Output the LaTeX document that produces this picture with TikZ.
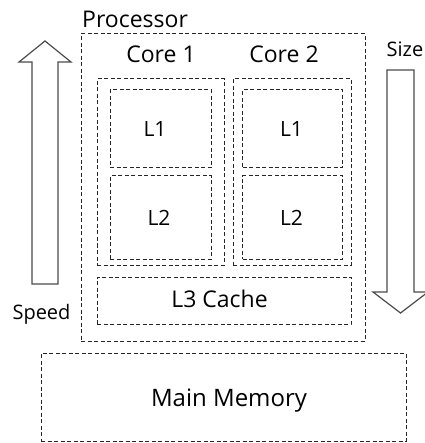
\documentclass[tikz,border=0pt]{standalone}
\usepackage{fontspec}
\setmainfont{Open Sans}
\begin{document}
\begin{tikzpicture}[x=1pt,y=-1pt,
  box/.style={draw=black!85, line width=1pt, dash pattern=on 4pt off 2.5pt, inner sep=0pt, fill=none},
  lbl/.style={inner sep=0pt, text=black},
  blockarrow/.style={draw=black!70, line width=1.2pt, fill=white, line join=miter}
]
\useasboundingbox (0,0) rectangle (424,443);
% boxes
\node[box, minimum width=284pt, minimum height=307pt] (proc) at (223,187.5) {};
\node[box, minimum width=127pt, minimum height=186pt] (core1) at (160.5,172) {};
\node[box, minimum width=118pt, minimum height=186pt] (core2) at (292,172) {};
\node[box, minimum width=101pt, minimum height=78pt] (l1a) at (160.5,129) {};
\node[box, minimum width=101pt, minimum height=83pt] (l2a) at (160.5,217.5) {};
\node[box, minimum width=100pt, minimum height=78pt] (l1b) at (292.5,129) {};
\node[box, minimum width=100pt, minimum height=83pt] (l2b) at (292.5,217.5) {};
\node[box, minimum width=254pt, minimum height=47pt] (l3) at (224,300.5) {};
\node[box, minimum width=365pt, minimum height=88pt] (mem) at (223.5,397) {};
% texts
\node[lbl, anchor=base west, font=\fontsize{23}{26}\selectfont] (tproc) at (82,28) {Processor};
\node[lbl, anchor=base, font=\fontsize{23}{26}\selectfont] (tc1) at (161,63) {Core 1};
\node[lbl, anchor=base, font=\fontsize{23}{26}\selectfont] (tc2) at (284,63) {Core 2};
\node[lbl, anchor=base, font=\fontsize{21}{24}\selectfont] (tl1a) at (155,137) {L1};
\node[lbl, anchor=base, font=\fontsize{21}{24}\selectfont] (tl2a) at (159,225) {L2};
\node[lbl, anchor=base, font=\fontsize{21}{24}\selectfont] (tl1b) at (291.5,137) {L1};
\node[lbl, anchor=base, font=\fontsize{21}{24}\selectfont] (tl2b) at (291.5,225) {L2};
\node[lbl, anchor=base, font=\fontsize{23}{26}\selectfont] (tl3) at (219.5,307) {L3 Cache};
\node[lbl, anchor=base, font=\fontsize{24}{27}\selectfont] (tmem) at (229,406) {Main Memory};
\node[lbl, anchor=base, font=\fontsize{20}{23}\selectfont] (tspeed) at (41.5,319) {Speed};
\node[lbl, anchor=base, font=\fontsize{20}{23}\selectfont] (tsize) at (405,57) {Size};
% block arrows
\draw[blockarrow] (32,284) -- (32,62) -- (19,62) -- (45,41) -- (71,62) -- (58,62) -- (58,284) -- cycle;
\draw[blockarrow] (387,70) -- (387,292) -- (373,292) -- (400.5,313) -- (428,292) -- (414,292) -- (414,70) -- cycle;
\end{tikzpicture}
\end{document}
